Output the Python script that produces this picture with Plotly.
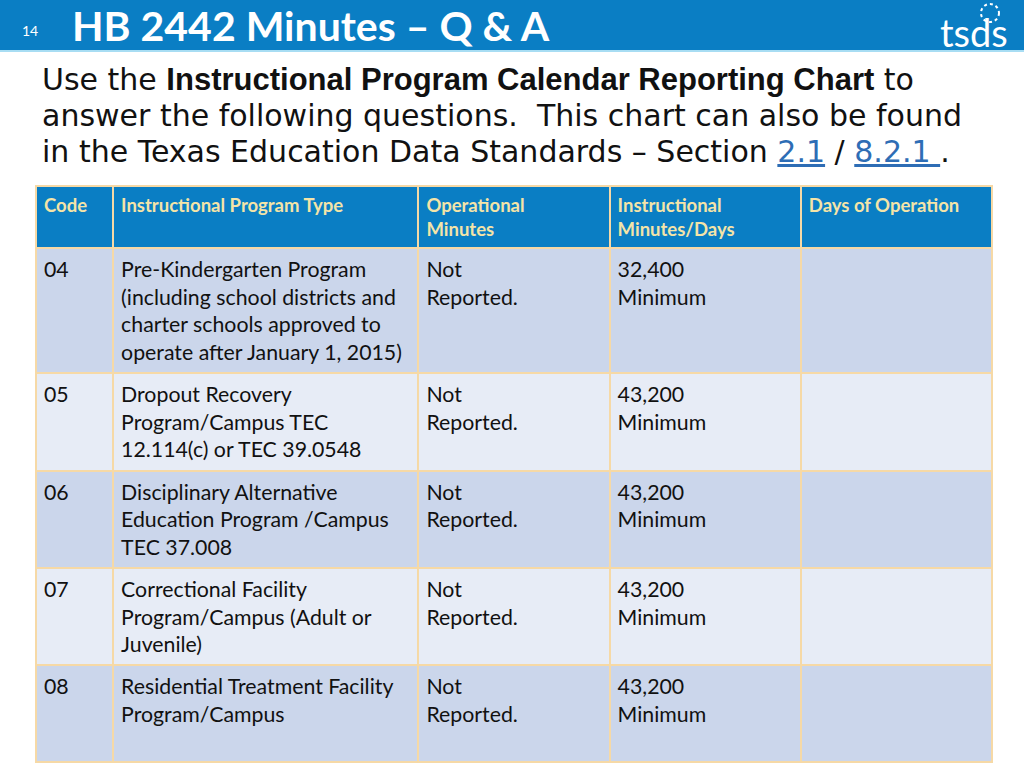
import plotly.graph_objects as go

# ---- data ----
header_labels = ["Code", "Instructional Program Type", "Operational<br>Minutes",
                 "Instructional<br>Minutes/Days", "Days of Operation"]
codes = ["04", "05", "06", "07", "08"]
program_types = [
    "Pre-Kindergarten Program<br>(including school districts and<br>charter schools approved to<br>operate after January 1, 2015)",
    "Dropout Recovery<br>Program/Campus TEC<br>12.114(c) or TEC 39.0548",
    "Disciplinary Alternative<br>Education Program /Campus<br>TEC 37.008",
    "Correctional Facility<br>Program/Campus (Adult or<br>Juvenile)",
    "Residential Treatment Facility<br>Program/Campus",
]
operational_minutes = ["Not<br>Reported.", "Not<br>Reported.", "Not<br>Reported.",
                       "Not<br>Reported.", "Not<br>Reported."]
instructional_minutes = ["32,400<br>Minimum", "43,200<br>Minimum", "43,200<br>Minimum",
                         "43,200<br>Minimum", "43,200<br>Minimum"]
days_of_operation = ["", "", "", "", ""]

title_text = "HB 2442 Minutes – Q & A"
slide_number = "14"
intro_lines = [
    "Use the <span style='font-family:Liberation Sans;font-size:31px'>"
    "<b>Instructional Program Calendar Reporting Chart</b></span> to",
    "answer the following questions.&nbsp; This chart can also be found",
    "in the Texas Education Data Standards – Section "
    "<span style='color:#2E6DB5'><u>2.1</u></span> / "
    "<span style='color:#2E6DB5'><u>8.2.1&nbsp;</u></span>.",
]

# ---- style ----
W, H = 1024, 768
FONT = "Lato"
INTRO_FONT = "DejaVu Sans"
BLUE = "#0A7EC4"
BORDER = "#F6D9A6"
HEAD_TXT = "#F4E4A8"
ROW_DARK = "#CBD6EB"
ROW_LIGHT = "#E7ECF6"

row_colors = [ROW_DARK if i % 2 == 0 else ROW_LIGHT for i in range(len(codes))]

def tagged(values):
    # wrap in a span so every cell uses the same text layout path
    return [f"<span>{v}</span>" for v in values]

fig = go.Figure()
fig.add_trace(go.Table(
    domain=dict(x=[36 / W, 992 / W], y=[0.0, 1 - 186 / H]),
    columnwidth=[77, 305, 191, 191, 191],
    header=dict(
        values=[f"<b>{h}</b>" for h in header_labels],
        fill_color=BLUE,
        line=dict(color=BORDER, width=2),
        align="left",
        height=60,
        font=dict(family=FONT, size=18.5, color=HEAD_TXT),
    ),
    cells=dict(
        values=[tagged(codes), program_types, operational_minutes,
                instructional_minutes, days_of_operation],
        fill_color=[row_colors] * 5,
        line=dict(color=BORDER, width=2),
        align="left",
        height=97,
        font=dict(family=FONT, size=21.3, color="#111111"),
    ),
))

shapes = [
    dict(type="rect", xref="paper", yref="paper", x0=0, x1=1, y0=1 - 50 / H, y1=1,
         fillcolor=BLUE, line=dict(width=0), layer="below"),
    dict(type="line", xref="paper", yref="paper", x0=0, x1=1, y0=1 - 51 / H, y1=1 - 51 / H,
         line=dict(color="#A8DDF3", width=2)),
    dict(type="circle", xref="paper", yref="paper",
         x0=981 / W, x1=999 / W, y0=1 - 22 / H, y1=1 - 4 / H,
         line=dict(color="white", width=2, dash="dot")),
]

annotations = [
    dict(text=slide_number, x=20 / W, y=1 - 30 / H, xref="paper", yref="paper",
         xanchor="left", yanchor="middle", showarrow=False,
         font=dict(family=FONT, size=14, color="white")),
    dict(text=f"<b>{title_text}</b>", x=70 / W, y=1 - 26 / H, xref="paper", yref="paper",
         xanchor="left", yanchor="middle", showarrow=False,
         font=dict(family=FONT, size=41, color="white")),
    dict(text="tsds", x=974 / W, y=1 - 32 / H, xref="paper", yref="paper",
         xanchor="center", yanchor="middle", showarrow=False,
         font=dict(family=FONT, size=38, color="white")),
]
for i, line in enumerate(intro_lines):
    annotations.append(dict(
        text=line, x=40 / W, y=1 - (80 + 36 * i) / H, xref="paper", yref="paper",
        xanchor="left", yanchor="middle", showarrow=False,
        font=dict(family=INTRO_FONT, size=30, color="#111111")))

fig.update_layout(
    width=W, height=H,
    margin=dict(l=0, r=0, t=0, b=0),
    paper_bgcolor="white",
    shapes=shapes,
    annotations=annotations,
)

fig.write_html("out.html", config={"displayModeBar": False},
               post_script="document.body.style.margin='0';")
